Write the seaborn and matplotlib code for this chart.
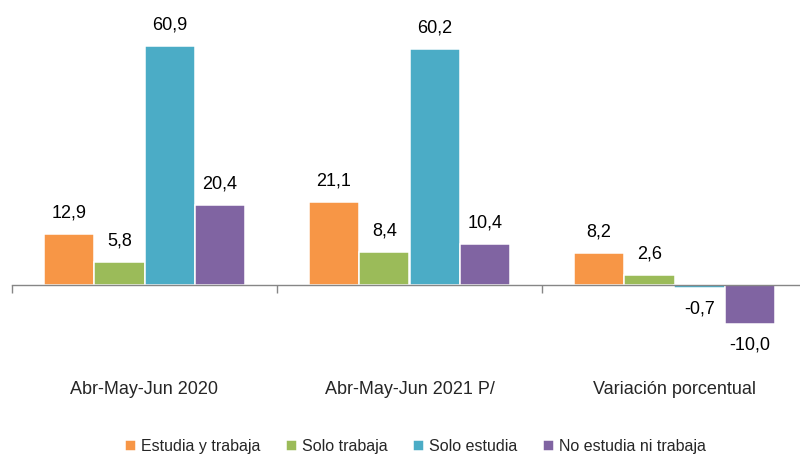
import pandas as pd
import matplotlib
matplotlib.use('Agg')
import matplotlib.pyplot as plt
import seaborn as sns

periodos = ['Abr-May-Jun 2020', 'Abr-May-Jun 2021 P/', 'Variación porcentual']
grupos = ['Estudia y trabaja', 'Solo trabaja', 'Solo estudia', 'No estudia ni trabaja']
estudia_y_trabaja = [12.9, 21.1, 8.2]
solo_trabaja = [5.8, 8.4, 2.6]
solo_estudia = [60.9, 60.2, -0.7]
no_estudia_ni_trabaja = [20.4, 10.4, -10.0]
colores = ['#F79646', '#9BBB59', '#4BACC6', '#8064A2']

series = [estudia_y_trabaja, solo_trabaja, solo_estudia, no_estudia_ni_trabaja]
rows = []
for g, vals in zip(grupos, series):
    for p, v in zip(periodos, vals):
        rows.append({'periodo': p, 'grupo': g, 'valor': v})
data = pd.DataFrame(rows)

sns.set_style('white')
plt.rcParams['font.family'] = ['Liberation Sans', 'DejaVu Sans']

fig = plt.figure(figsize=(8, 4.57), dpi=100)
ax = fig.add_axes([0.015, 0.2046, 0.99375, 0.790])

sns.barplot(data=data, x='periodo', y='valor', hue='grupo', order=periodos,
            hue_order=grupos, palette=colores, width=0.76, errorbar=None,
            edgecolor='white', linewidth=1.1, saturation=1, ax=ax)

for cont in ax.containers:
    vals = [b.get_height() for b in cont]
    ax.bar_label(cont, labels=[f'{v:.1f}'.replace('.', ',') for v in vals],
                 padding=9, fontsize=13, color='black')

ax.set_ylim(-20, 72)
ax.set_xlim(-0.5, 2.5)
ax.set_xlabel('')
ax.set_ylabel('')
ax.set_yticks([])

for s in ['top', 'right', 'left']:
    ax.spines[s].set_visible(False)
ax.spines['bottom'].set_position(('data', 0))
ax.spines['bottom'].set_color('#868686')
ax.spines['bottom'].set_linewidth(1)

ax.set_xticks([-0.5, 0.5, 1.5, 2.5], minor=True)
ax.tick_params(axis='x', which='minor', bottom=True, length=6, width=1,
               color='#868686', direction='out')
ax.tick_params(axis='x', which='major', bottom=True, length=0, pad=69, labelsize=13)

sns.move_legend(ax, 'center', bbox_to_anchor=(0.507, -0.231), ncol=4, frameon=False,
                title=None, fontsize=11.5, handlelength=0.7, handleheight=0.7,
                handletextpad=0.3, columnspacing=1.6)

plt.savefig('out.png', dpi=100)
